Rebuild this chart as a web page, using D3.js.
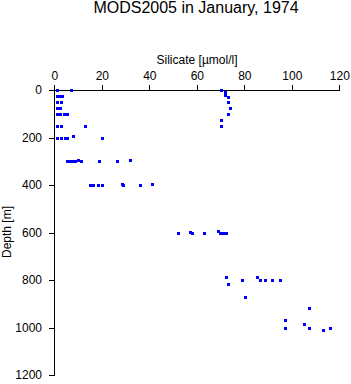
<!DOCTYPE html>
<html>
<head>
<meta charset="utf-8">
<script src="https://cdn.jsdelivr.net/npm/d3@7"></script>
<style>
  body { margin: 0; background: #fff; }
  text { font-family: "Liberation Sans", Arial, sans-serif; fill: #000; }
</style>
</head>
<body>
<svg id="drawing_region"></svg>
<script>
// silicate [umol/l] and depth [m] of each sample, same order
const silicate = [
    1, 7, 70,
    72, 72,
    1.3, 2.3, 3.3,
    73,
    1.3, 3, 73,
    1, 2.3, 74,
    1.1, 2.3, 4, 5.3, 73,
    70,
    1.1, 3, 13, 70,
    1.1, 3, 4.3, 5.5, 8, 20,
    5.4, 6.5, 7.6, 8.7, 10, 11.1, 19, 26.2, 32,
    15.2, 16.2, 18.6, 20, 28.3, 29.1, 36, 41,
    51.9, 57, 57.8, 63, 69.1, 69.8, 71, 72.2,
    72.2, 73, 79.1, 85.2, 86.8, 88.6, 91.7, 95.2,
    80.2, 107.2, 97, 105,
    97, 107.2, 116, 113.1
];
const depth = [
    0, 0, 0,
    10, 20,
    25, 25, 25,
    30,
    50, 50, 50,
    75, 75, 75,
    100, 100, 100, 100, 100,
    125,
    150, 150, 150, 150,
    200, 200, 200, 200, 195, 200,
    300, 300, 300, 300, 295, 300, 300, 300, 295,
    400, 400, 400, 400, 395, 400, 400, 395,
    600, 598, 602, 600, 595, 600, 600, 600,
    789, 816, 800, 789, 800, 800, 800, 800,
    873, 919, 970, 987,
    1000, 1000, 1000, 1012
];
const xticks = [0, 20, 40, 60, 80, 100, 120];
const yticks = [0, 200, 400, 600, 800, 1000, 1200];

const title = "MODS2005 in January, 1974";
const xlabel = "Silicate [\u00b5mol/l]";
const ylabel = "Depth [m]";

const data = silicate.map( (s, i) => ({ x: s, y: depth[i] }) );

const config = {
    width: 351,
    height: 384,
    margin: {top:90, right:12, bottom:9, left:54}
};

const svg = d3.select('#drawing_region')
    .attr('width', config.width)
    .attr('height', config.height);

const inner_width = 285;
const inner_height = 285;

const chart = svg.append('g')
    .attr('transform', `translate(${config.margin.left}, ${config.margin.top})`);

const xscale = d3.scaleLinear()
    .domain([0, 120])
    .range([0.3, inner_width + 0.3]);

const yscale = d3.scaleLinear()
    .domain([0, 1200])
    .range([0, inner_height]);

const xaxis = d3.axisTop( xscale )
    .tickValues( xticks )
    .tickFormat( d3.format('d') )
    .tickSizeInner(5)
    .tickSizeOuter(0)
    .tickPadding(5);

const yaxis = d3.axisLeft( yscale )
    .tickValues( yticks )
    .tickFormat( d3.format('d') )
    .tickSizeInner(5)
    .tickSizeOuter(0)
    .tickPadding(7);

const xaxis_group = chart.append('g').call( xaxis );
const yaxis_group = chart.append('g').call( yaxis );

[xaxis_group, yaxis_group].forEach( g => {
    g.attr('font-family', null).attr('font-size', null);
    g.selectAll('text').attr('font-size', '12px');
    g.selectAll('path, line')
        .attr('stroke', '#000')
        .attr('shape-rendering', 'crispEdges');
});

// y axis runs a little above the x axis
yaxis_group.select('.domain')
    .attr('d', `M0.5,-3V${inner_height + 0.5}`);

chart.selectAll('rect.pt')
    .data(data)
    .enter()
    .append('rect')
    .attr('class', 'pt')
    .attr('x', d => Math.round(xscale(d.x)) - 1)
    .attr('y', d => Math.round(yscale(d.y)) - 1)
    .attr('width', 3)
    .attr('height', 3)
    .attr('fill', '#0000ff')
    .attr('shape-rendering', 'crispEdges');

svg.append('text')
    .attr('x', 196)
    .attr('y', 13)
    .attr('text-anchor', 'middle')
    .attr('font-size', '16px')
    .text( title );

svg.append('text')
    .attr('x', 197)
    .attr('y', 64)
    .attr('text-anchor', 'middle')
    .attr('font-size', '12px')
    .text( xlabel );

svg.append('text')
    .attr('transform', 'translate(11, 232) rotate(-90)')
    .attr('text-anchor', 'middle')
    .attr('font-size', '12px')
    .text( ylabel );
</script>
</body>
</html>
